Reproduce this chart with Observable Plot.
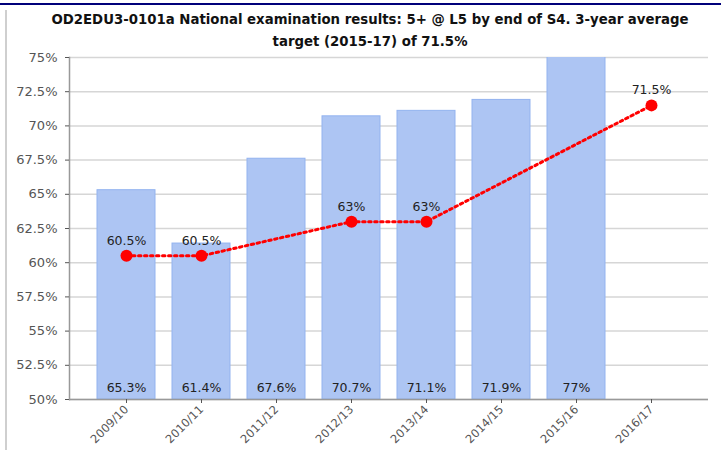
<!DOCTYPE html>
<html><head><meta charset="utf-8">
<script src="https://cdn.jsdelivr.net/npm/d3@7"></script>
<script src="https://cdn.jsdelivr.net/npm/@observablehq/plot@0.6"></script>
<style>
html,body{margin:0;padding:0;background:#fff;overflow:hidden;width:722px;height:450px;}
#wrap{position:relative;width:722px;height:450px;overflow:hidden;background:#fff;font-family:"DejaVu Sans",sans-serif;}
#topline{position:absolute;left:0;top:3px;width:721px;height:2px;background:#00007a;z-index:2;}
#leftline{position:absolute;left:5px;top:10px;width:2px;height:440px;background:#cfcfcf;}
#title{position:absolute;left:10px;width:720px;top:9px;text-align:center;font-weight:bold;font-size:13.3px;line-height:22px;color:#111;}
#chart{position:absolute;left:0;top:50px;width:722px;height:400px;overflow:hidden;}
#chart svg{display:block;}
#rightcover{position:absolute;left:714px;top:6px;width:8px;height:444px;background:#fff;z-index:1;}
</style></head>
<body>
<div id="wrap">
  <div id="topline"></div>
  <div id="leftline"></div>
  <div id="title">OD2EDU3-0101a National examination results: 5+ @ L5 by end of S4. 3-year average<br>target (2015-17) of 71.5%</div>
  <div id="chart"></div>
  <div id="rightcover"></div>
</div>
<script>
const years = ["2009/10","2010/11","2011/12","2012/13","2013/14","2014/15","2015/16","2016/17"];
const results = [65.3, 61.4, 67.6, 70.7, 71.1, 71.9, 77, null];
const targets = [60.5, 60.5, null, 63, 63, null, null, 71.5];
const yTicks = [50, 52.5, 55, 57.5, 60, 62.5, 65, 67.5, 70, 72.5, 75];

const bars = years.map((y, i) => ({year: y, value: results[i]})).filter(d => d.value != null);
const tgt = years.map((y, i) => ({year: y, value: targets[i]})).filter(d => d.value != null);

const chart = Plot.plot({
  width: 722,
  height: 400,
  marginLeft: 69,
  marginRight: 14,
  marginTop: 7,
  marginBottom: 51,
  style: {fontFamily: "DejaVu Sans, sans-serif", background: "transparent"},
  x: {type: "band", domain: years, paddingInner: 0.23, paddingOuter: 0.32, label: null},
  y: {domain: [50, 75], label: null},
  marks: [
    Plot.gridY(yTicks, {stroke: "#d6d6d6", strokeOpacity: 1, strokeWidth: 1.5}),
    Plot.barY(bars, {x: "year", y1: 50, y2: "value", fill: "#adc5f3", stroke: "#93b3ef", strokeWidth: 1, clip: true}),
    Plot.text(bars, {x: "year", y: 50, dy: -12, text: d => d.value + "%", fill: "#222", fontSize: 12.5}),
    Plot.ruleY([50], {stroke: "#999", strokeWidth: 1.5}),
    Plot.frame({anchor: "left", stroke: "#999", strokeWidth: 1.5}),
    Plot.axisY(yTicks, {tickSize: 4, tickPadding: 8, tickFormat: d => d + "%", fontSize: 13, color: "#555", label: null}),
    Plot.axisX({tickSize: 4, tickPadding: 4, tickRotate: -45, fontSize: 11.5, color: "#555", label: null}),
    Plot.line(tgt, {x: "year", y: "value", stroke: "#ff0000", strokeWidth: 3, strokeDasharray: "2.5,3.5"}),
    Plot.dot(tgt, {x: "year", y: "value", r: 6, fill: "#ff0000", stroke: "none"}),
    Plot.text(tgt, {x: "year", y: "value", dy: -15, text: d => d.value + "%", fill: "#222", fontSize: 12.5})
  ]
});
document.getElementById("chart").appendChild(chart);
</script>
</body></html>
